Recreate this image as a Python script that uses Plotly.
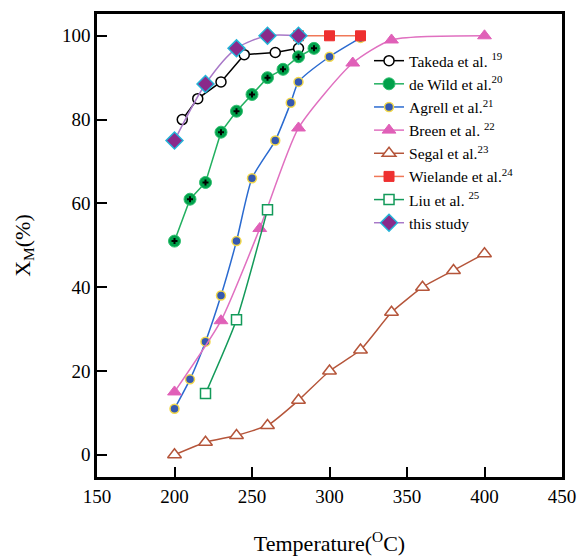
import plotly.graph_objects as go

# ---- data ----
takeda_x = [205, 215, 230, 245, 265, 280]
takeda_y = [80, 85, 89, 95.5, 96, 97]

dewild_x = [200, 210, 220, 230, 240, 250, 260, 270, 280, 290]
dewild_y = [51, 61, 65, 77, 82, 86, 90, 92, 95, 97]

agrell_x = [200, 210, 220, 230, 240, 250, 265, 275, 280, 300, 320]
agrell_y = [11, 18, 27, 38, 51, 66, 75, 84, 89, 95, 99.5]

breen_x = [200, 230, 255, 280, 315, 340, 400]
breen_y = [15, 32, 54, 78, 93.5, 99, 100]

segal_x = [200, 220, 240, 260, 280, 300, 320, 340, 360, 380, 400]
segal_y = [0, 3, 4.6, 7, 13, 20, 25, 34, 40, 44, 48]

wielande_x = [280, 300, 320]
wielande_y = [100, 100, 100]

liu_x = [220, 240, 260]
liu_y = [14.6, 32.2, 58.5]

study_x = [200, 220, 240, 260, 280]
study_y = [75, 88.5, 97, 100, 100]

x_ticks = [150, 200, 250, 300, 350, 400, 450]
y_ticks = [0, 20, 40, 60, 80, 100]

FONT = "Liberation Serif, Times New Roman, Times, serif"

fig = go.Figure()

fig.add_trace(go.Scatter(
    x=takeda_x, y=takeda_y, mode="lines+markers",
    name="Takeda et al. <sup>19</sup>",
    line=dict(color="black", width=1.5),
    marker=dict(symbol="circle", size=10, color="white",
                line=dict(color="black", width=1.5))))

fig.add_trace(go.Scatter(
    x=dewild_x, y=dewild_y, mode="lines+markers",
    name="de Wild et al.<sup>20</sup>", legendgroup="dw",
    line=dict(color="#22b060", width=1.5),
    marker=dict(symbol="circle", size=12, color="#00a04a",
                line=dict(color="#30c070", width=1))))
fig.add_trace(go.Scatter(
    x=dewild_x, y=dewild_y, mode="markers", showlegend=False, legendgroup="dw",
    marker=dict(symbol="cross", size=5, color="black", line=dict(width=0)),
    hoverinfo="skip"))

fig.add_trace(go.Scatter(
    x=agrell_x, y=agrell_y, mode="lines+markers",
    name="Agrell et al.<sup>21</sup>",
    line=dict(color="#2a6ad0", width=1.5, shape="spline", smoothing=0.6),
    marker=dict(symbol="circle", size=9, color="#3558b0",
                line=dict(color="#f2d84a", width=1.5))))

fig.add_trace(go.Scatter(
    x=breen_x, y=breen_y, mode="lines+markers",
    name="Breen et al. <sup>22</sup>",
    line=dict(color="#e070c0", width=1.5, shape="spline", smoothing=0.6),
    marker=dict(symbol="triangle-up", size=12, color="#e060b8",
                line=dict(color="#e060b8", width=1))))

fig.add_trace(go.Scatter(
    x=segal_x, y=segal_y, mode="lines+markers",
    name="Segal et al.<sup>23</sup>",
    line=dict(color="#b5553a", width=1.5, shape="spline", smoothing=0.4),
    marker=dict(symbol="triangle-up", size=12, color="white",
                line=dict(color="#b5553a", width=1.5))))

fig.add_trace(go.Scatter(
    x=wielande_x, y=wielande_y, mode="lines+markers",
    name="Wielande et al.<sup>24</sup>",
    line=dict(color="#f07858", width=1.5),
    marker=dict(symbol="square", size=10, color="#ee3030",
                line=dict(color="#ee3030", width=1))))

fig.add_trace(go.Scatter(
    x=liu_x, y=liu_y, mode="lines+markers",
    name="Liu et al. <sup>25</sup>",
    line=dict(color="#139a5a", width=1.5, shape="spline", smoothing=0.6),
    marker=dict(symbol="square", size=10, color="white",
                line=dict(color="#139a5a", width=1.5))))

fig.add_trace(go.Scatter(
    x=study_x, y=study_y, mode="lines+markers",
    name="this study",
    line=dict(color="#a878c8", width=1.5, shape="spline", smoothing=0.8),
    marker=dict(symbol="diamond", size=13, color="#8a2a8a",
                line=dict(color="#22b4d8", width=1.5))))

fig.update_layout(
    width=578, height=556,
    margin=dict(l=97, r=16, t=14, b=79),
    paper_bgcolor="white", plot_bgcolor="white",
    font=dict(family=FONT, size=19, color="black"),
    showlegend=True,
    legend=dict(x=0.585, y=0.935, xanchor="left", yanchor="top",
                bgcolor="rgba(0,0,0,0)", borderwidth=0,
                font=dict(family=FONT, size=15.5, color="black"),
                tracegroupgap=0),
)

fig.update_xaxes(
    range=[150, 450], tickvals=x_ticks, ticktext=[str(v) for v in x_ticks],
    showgrid=False, zeroline=False,
    showline=True, linecolor="black", linewidth=2.5, mirror=True,
    ticks="inside", ticklen=10, tickwidth=2, tickcolor="black",
    title=dict(text="Temperature(<sup>O</sup>C)", font=dict(family=FONT, size=22), standoff=32),
    automargin=False)

fig.update_yaxes(
    range=[-5.3, 105.2], tickvals=y_ticks, ticktext=[str(v) for v in y_ticks],
    showgrid=False, zeroline=False,
    showline=True, linecolor="black", linewidth=2.5, mirror=True,
    ticks="inside", ticklen=10, tickwidth=2, tickcolor="black",
    title=dict(text="X<sub>M</sub>(%)", font=dict(family=FONT, size=22), standoff=26),
    automargin=False)

fig.write_html("out.html")
